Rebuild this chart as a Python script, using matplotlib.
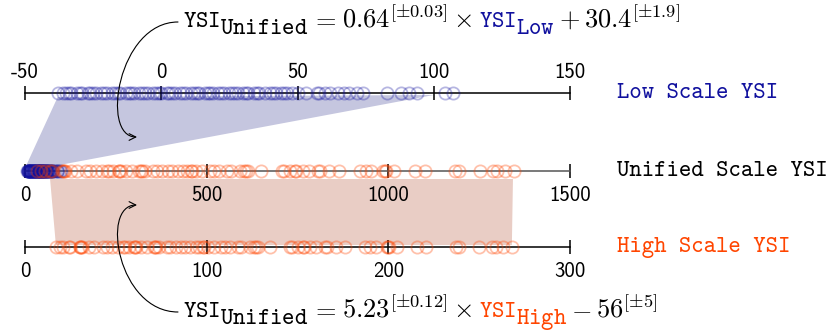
import numpy as np
import matplotlib.pyplot as plt
import matplotlib.transforms as mtransforms
from matplotlib.path import Path
from matplotlib.patches import FancyArrowPatch, Polygon

plt.rcParams['mathtext.fontset'] = 'cm'

# axis ticks for the three scales
low_ticks = [-50, 0, 50, 100, 150]
low_labels = ['-50', '0', '50', '100', '150']
uni_ticks = [0, 500, 1000, 1500]
uni_labels = ['0', '500', '1000', '1500']
high_ticks = [0, 100, 200, 300]
high_labels = ['0', '100', '200', '300']

low_vals = [-38, -36, -35, -34, -33, -31, -30, -29, -27, -26, -25, -24, -22, -21, -20,
            -18, -17, -16, -15, -13, -12, -11, -10, -8, -7, -6, -5, -3, -2, -1, 0, 2,
            3, 4, 5, 7, 8, 9, 11, 12, 13, 14, 16, 17, 18, 19, 21, 22, 23, 25, 26, 27,
            28, 30, 31, 32, 34, 35, 36, 38, 40, 41, 42, 44, 45, 46, 48, 50,
            53, 57, 58, 60, 62, 65, 67, 69, 72, 74, 83, 88, 91, 94, 104, 107]
uni_low = [6.1, 7.4, 8, 8.6, 9.3, 10.6, 11.2, 11.8, 13.1, 13.8, 14.4, 15, 16.3, 17, 17.6,
           18.9, 19.5, 20.2, 20.8, 22.1, 22.7, 23.4, 24, 25.3, 25.9, 26.6, 27.2, 28.5,
           29.1, 29.8, 30.4, 31.7, 32.3, 33, 33.6, 34.9, 35.5, 36.2, 37.4, 38.1, 38.7,
           39.4, 40.6, 41.3, 41.9, 42.6, 43.8, 44.5, 45.1, 46.4, 47, 47.7, 48.3, 49.6,
           50.2, 50.9, 52.2, 52.8, 53.4, 54.7, 56, 56.6, 57.3, 58.6, 59.2, 59.8, 61.1,
           62.4, 64.3, 66.9, 67.5, 68.8, 70.1, 72, 73.3, 74.6, 76.5, 77.8, 83.5, 86.7,
           88.6, 90.6, 97, 98.9]
high_vals = [17, 19, 21, 24, 25, 30, 30.5, 31, 31.5, 35, 38, 43, 45, 48, 51, 54, 55, 57,
             60, 60.5, 61, 64, 67, 71, 71.5, 72, 74, 78, 80, 83, 86, 88, 91, 94, 96, 98,
             98.5, 101, 104, 108, 110, 113, 117, 119, 124, 126, 127, 128, 135, 146, 147,
             150, 153, 153.5, 157, 160, 165, 166, 171, 176, 187, 190, 193, 199, 200,
             200.5, 205, 216, 221, 237, 239, 250, 257, 259, 263, 268]
uni_high = [33, 43, 54, 70, 75, 101, 104, 106, 109, 127, 143, 169, 179, 195, 211, 226,
            232, 242, 258, 260, 263, 279, 294, 315, 318, 321, 331, 352, 362, 378, 394,
            404, 420, 436, 446, 457, 459, 472, 488, 509, 519, 535, 556, 566, 593, 603,
            608, 613, 650, 708, 713, 729, 744, 747, 765, 781, 807, 812, 838, 865, 922,
            938, 953, 985, 990, 993, 1016, 1074, 1100, 1184, 1194, 1252, 1288, 1299,
            1320, 1346]

# ranges joined by the shaded bands
low_span = [-38, 100]
uni_low_span = [4, 95]
high_span = [17, 268]
uni_high_span = [69, 1343]

BLUE = '#10109e'
ORANGE = '#ff4500'
W, H = 831, 331

fig = plt.figure(figsize=(W / 100, H / 100), dpi=100)
px = mtransforms.Affine2D().scale(1 / W, -1 / H).translate(0, 1) + fig.transFigure


def number_line(yc, lims, ticks, labels, top=False, color='black', pad=5):
    x0, x1 = 25 / W, 570 / W
    h = 30 / H
    ax = fig.add_axes([x0, 1 - yc / H - h / 2, x1 - x0, h])
    ax.set_xlim(lims)
    ax.set_ylim(-1, 1)
    ax.patch.set_visible(False)
    ax.set_yticks([])
    side = 'top' if top else 'bottom'
    for s in ax.spines:
        ax.spines[s].set_visible(s == side)
    ax.spines[side].set_position(('data', 0))
    ax.spines[side].set_color(color)
    ax.spines[side].set_linewidth(1.1)
    if top:
        ax.xaxis.tick_top()
    ax.set_xticks(ticks, labels)
    ax.tick_params(axis='x', direction='inout', length=10, width=1.1,
                   labelsize=15, pad=pad, labelfontfamily='cmss10')
    return ax


ax_low = number_line(93, (-50, 150), low_ticks, low_labels, top=True, pad=3)
ax_uni = number_line(171, (0, 1500), uni_ticks, uni_labels, color='#555555', pad=6)
ax_high = number_line(247, (0, 300), high_ticks, high_labels, pad=6)

mk = dict(marker='o', ls='none', ms=8.8, mfc='none', mew=1.3, clip_on=False, zorder=3)
ax_low.plot(low_vals, np.zeros(len(low_vals)), mec=BLUE, alpha=0.3, **mk)
ax_uni.plot(uni_low, np.zeros(len(uni_low)), mec=BLUE, alpha=0.3, **mk)
ax_uni.plot(uni_high, np.zeros(len(uni_high)), mec=ORANGE, alpha=0.33, **mk)
ax_high.plot(high_vals, np.zeros(len(high_vals)), mec=ORANGE, alpha=0.33, **mk)


def corner(ax, xv, dy):
    d = ax.transData.transform((xv, 0))
    return fig.transFigure.inverted().transform((d[0], d[1] + dy))


blue_band = [corner(ax_low, low_span[0], -4), corner(ax_low, low_span[1], -2),
             corner(ax_uni, uni_low_span[1], 6), corner(ax_uni, uni_low_span[0], 6)]
red_band = [corner(ax_uni, uni_high_span[0], -8), corner(ax_uni, uni_high_span[1], -8),
            corner(ax_high, high_span[1], 2), corner(ax_high, high_span[0], 2)]
fig.patches.append(Polygon(blue_band, closed=True, transform=fig.transFigure,
                           fc='#c5c6df', ec='none', zorder=-1))
fig.patches.append(Polygon(red_band, closed=True, transform=fig.transFigure,
                           fc='#e9cdc5', ec='none', zorder=-1))

# scale names
fig.text(617, 93, 'Low Scale YSI', transform=px, family='cmtt10', size=17,
         color=BLUE, va='center')
fig.text(617, 171, 'Unified Scale YSI', transform=px, family='cmtt10', size=17,
         color='black', va='center')
fig.text(617, 247, 'High Scale YSI', transform=px, family='cmtt10', size=17,
         color=ORANGE, va='center')

# equations, built piece by piece so the subscripts stay full size
renderer = fig.canvas.get_renderer()


def equation(pieces, x, y):
    for s, c, dy, gap, size in pieces:
        x += gap
        t = fig.text(x, y + dy, s, transform=px, color=c, fontsize=size,
                     va='baseline', ha='left')
        x = t.get_window_extent(renderer).x1


k = 'black'
tt, mm = 17, 19
equation([(r'$\mathtt{YSI}$', k, 0, 0, tt), (r'$\mathtt{Unified}$', k, 7, 0, tt),
          (r'$=$', k, 0, 2, mm), (r'$0.64^{[\pm 0.03]}$', k, 0, 5, mm),
          (r'$\times$', k, 0, 6, mm), (r'$\mathtt{YSI}$', BLUE, 0, 7, tt),
          (r'$\mathtt{Low}$', BLUE, 7, 0, tt), (r'$+$', k, 0, 4, mm),
          (r'$30.4^{[\pm 1.9]}$', k, 0, 4, mm)], 183, 27)
equation([(r'$\mathtt{YSI}$', k, 0, 0, tt), (r'$\mathtt{Unified}$', k, 7, 0, tt),
          (r'$=$', k, 0, 2, mm), (r'$5.23^{[\pm 0.12]}$', k, 0, 5, mm),
          (r'$\times$', k, 0, 6, mm), (r'$\mathtt{YSI}$', ORANGE, 0, 7, tt),
          (r'$\mathtt{High}$', ORANGE, 7, 0, tt), (r'$-$', k, 0, 4, mm),
          (r'$56^{[\pm 5]}$', k, 0, 4, mm)], 183, 317)

# curved pointers from the equations to the bands
for p in ([(178, 22), (118, 22), (100, 137), (137, 137)],
          [(178, 312), (118, 312), (100, 205), (137, 205)]):
    path = Path(p, [Path.MOVETO, Path.CURVE4, Path.CURVE4, Path.CURVE4])
    fig.patches.append(FancyArrowPatch(path=path, arrowstyle='->', mutation_scale=12,
                                       lw=0.8, color='black', transform=px))

fig.savefig('out.png', dpi=100)
